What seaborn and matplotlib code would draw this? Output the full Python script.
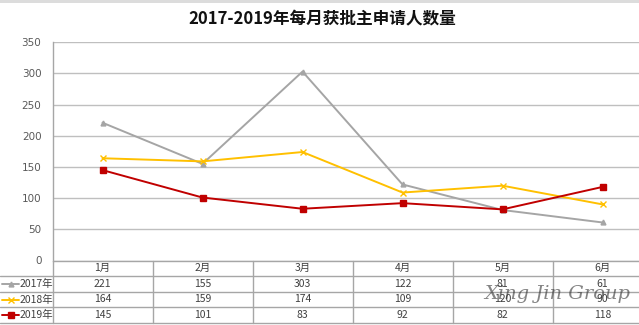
import matplotlib
matplotlib.use("Agg")
import matplotlib.pyplot as plt
import seaborn as sns
import pandas as pd
from matplotlib.lines import Line2D
from matplotlib.patches import Rectangle

sns.set_theme(style="white")
plt.rcParams["font.family"] = ["Noto Sans CJK SC", "DejaVu Sans"]

# Data
months = ["1月", "2月", "3月", "4月", "5月", "6月"]
years = ["2017年", "2018年", "2019年"]
v2017 = [221, 155, 303, 122, 81, 61]
v2018 = [164, 159, 174, 109, 120, 90]
v2019 = [145, 101, 83, 92, 82, 118]
title = "2017-2019年每月获批主申请人数量"
y_ticks = [0, 50, 100, 150, 200, 250, 300, 350]

series = {"2017年": v2017, "2018年": v2018, "2019年": v2019}
colors = {"2017年": "#A5A5A5", "2018年": "#FFC000", "2019年": "#C00000"}
markers = {"2017年": "^", "2018年": "x", "2019年": "s"}
msizes = {"2017年": 3.5, "2018年": 4.5, "2019年": 3.8}

df = pd.DataFrame(
    [(i, m, y, series[y][i]) for y in years for i, m in enumerate(months)],
    columns=["pos", "month", "year", "value"],
)

W, H = 639, 325
fig = plt.figure(figsize=(W / 100, H / 100), dpi=100)
fig.patch.set_facecolor("white")

def fx(px):
    return px / W

def fy(py):
    return 1 - py / H

# plot area geometry (pixels)
x0, x1 = 52.5, 652.5
y_top, y_zero = 42.3, 260.5
ax = fig.add_axes([fx(x0), fy(y_zero), fx(x1) - fx(x0), fy(y_top) - fy(y_zero)])
ax.set_facecolor("white")

for y in years:
    sns.lineplot(
        data=df[df.year == y], x="pos", y="value", ax=ax,
        color=colors[y], marker=markers[y], markersize=msizes[y],
        markeredgecolor=colors[y], markerfacecolor=colors[y],
        markeredgewidth=1.0, linewidth=1.4, legend=False, zorder=3,
    )

ax.set_xlim(-0.5, 5.5)
ax.set_ylim(0, 350)
ax.set_yticks(y_ticks)
ax.set_yticklabels([str(t) for t in y_ticks], fontsize=7.5, color="#595959",
                   family="DejaVu Sans")
ax.tick_params(axis="y", length=0, pad=8)
ax.set_xticks([])
ax.set_xlabel("")
ax.set_ylabel("")
for t in y_ticks:
    ax.axhline(t, color="#BFBFBF", linewidth=1.0, zorder=1)
for s in ["top", "right", "bottom"]:
    ax.spines[s].set_visible(False)
ax.spines["left"].set_color("#A6A6A6")
ax.spines["left"].set_linewidth(1.0)

# data table under the plot
row_edges = [260.5, 276, 291.7, 307.3, 323.3]
line_c = "#A6A6A6"
lines = []
lines.append(Line2D([fx(x0), fx(x1)], [fy(row_edges[0])] * 2))
for ry in row_edges[1:]:
    lines.append(Line2D([0, fx(x1)], [fy(ry)] * 2))
col_w = (x1 - x0) / len(months)
for i in range(len(months) + 1):
    cx = x0 + i * col_w
    lines.append(Line2D([fx(cx)] * 2, [fy(row_edges[0]), fy(row_edges[-1])]))
for ln in lines:
    ln.set_color(line_c)
    ln.set_linewidth(1.0)
    fig.add_artist(ln)

txt_kw = dict(ha="center", va="center", fontsize=7.5, color="#404040")
for i, m in enumerate(months):
    cx = x0 + (i + 0.5) * col_w
    fig.text(fx(cx), fy((row_edges[0] + row_edges[1]) / 2), m, **txt_kw)
for r, y in enumerate(years):
    cy = (row_edges[r + 1] + row_edges[r + 2]) / 2
    for i, v in enumerate(series[y]):
        cx = x0 + (i + 0.5) * col_w
        fig.text(fx(cx), fy(cy), str(v), **txt_kw)
    # legend key: short line with its marker in the middle
    fig.add_artist(Line2D([fx(2), fx(19)], [fy(cy)] * 2, color=colors[y],
                          linewidth=1.4))
    fig.add_artist(Line2D([fx(10.5)], [fy(cy)], color=colors[y], marker=markers[y],
                          markersize=msizes[y], markeredgewidth=1.0,
                          markerfacecolor=colors[y], markeredgecolor=colors[y],
                          linestyle="none"))
    fig.text(fx(20), fy(cy), y, ha="left", va="center", fontsize=7.5,
             color="#404040")

# title
fig.text(fx(322), fy(19), title, ha="center", va="center", fontsize=12,
         fontweight="bold", color="#111111")

# thin top border band
fig.add_artist(Rectangle((0, fy(2.5)), 1, fy(0) - fy(2.5), transform=fig.transFigure,
                         color="#DCDCDC", linewidth=0))

# watermark
fig.text(fx(557), fy(294), "Xing Jin Group", ha="center", va="center",
         fontsize=14, family="DejaVu Serif", style="italic", color="#333333",
         alpha=0.6)

fig.savefig("out.png", dpi=100, facecolor="white")
